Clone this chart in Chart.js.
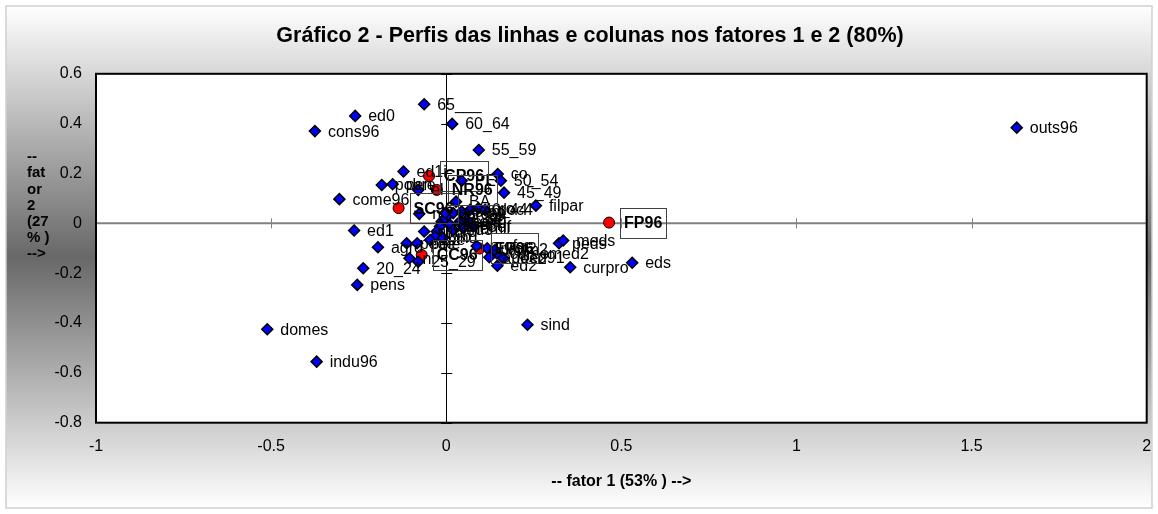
<!DOCTYPE html>
<html><head><meta charset="utf-8">
<script src="https://cdn.jsdelivr.net/npm/chart.js@4/dist/chart.umd.min.js"></script>
<style>html,body{margin:0;padding:0;background:#fff}#wrap{width:1158px;height:514px;position:relative}</style>
</head><body><div id="wrap"><canvas id="c" width="1158" height="514"></canvas></div>
<script>
const titleText = 'Gráfico 2 - Perfis das linhas e colunas nos fatores 1 e 2 (80%)';
const xTitle = '-- fator 1 (53% ) -->';
const yTitleLines = ['--', 'fat', 'or', '2', '(27', '% )', '-->'];
const xTicks = [-1, -0.5, 0, 0.5, 1, 1.5, 2];
const yTicks = [-0.8, -0.6, -0.4, -0.2, 0, 0.2, 0.4, 0.6];

// blue diamonds (category profiles)
const rowLabels = ['outs96','cons96','ed0','65___','60_64','55_59','co','50_54','45_49','filpar',
  'PE','BA','ed1i','pobre','pen','el','come96','n','ed1','nl',
  'agro','pede','pele','ni','25_29','20_24','pens','domes','indu96','sind',
  'eds','curpro','peds','meds','ed2','cursomed2','prof2','apoed91','tec2','prof',
  'adm2','ssoc','30_34','35_39','proal','sem','40_44','pro','doc4','cam',
  'mrd','urb','assal','ed3','famil','Cdf','ed4','39g','nc','me','ind'];
const rowX = [1.629,-0.375,-0.260,-0.063,0.017,0.093,0.147,0.156,0.165,0.256,
  0.044,0.028,-0.122,-0.184,-0.153,-0.080,-0.305,-0.077,-0.263,-0.063,
  -0.195,-0.113,-0.083,-0.105,-0.080,-0.237,-0.254,-0.511,-0.370,0.232,
  0.531,0.354,0.322,0.334,0.146,0.144,0.117,0.123,0.163,0.087,
  0.139,-0.013,-0.003,0.006,0.020,0.044,0.068,0.092,0.111,-0.018,
  -0.027,-0.032,0.011,0.020,0.049,0.077,0.039,0.059,-0.003,-0.046,-0.009];
const rowY = [0.384,0.370,0.431,0.478,0.399,0.294,0.198,0.171,0.123,0.071,
  0.171,0.087,0.208,0.154,0.157,0.134,0.097,0.038,-0.029,-0.033,
  -0.096,-0.080,-0.080,-0.140,-0.154,-0.180,-0.247,-0.425,-0.555,-0.407,
  -0.158,-0.176,-0.080,-0.069,-0.170,-0.120,-0.100,-0.136,-0.140,-0.091,
  -0.107,0.007,0.020,0.034,0.041,0.047,0.054,0.061,0.054,-0.013,
  -0.033,-0.053,-0.006,-0.027,-0.020,-0.013,0.007,0.014,0.041,-0.067,-0.059];

// red circles (sector profiles)
const colLabels = ['CP96','NR96','SC96','CC96','EP96','FP96'];
const colX = [-0.049,-0.027,-0.136,-0.070,0.095,0.465];
const colY = [0.190,0.134,0.061,-0.127,-0.101,0.003];

const FONT = '"Liberation Sans", Arial, sans-serif';
Chart.defaults.font.family = FONT;
Chart.defaults.color = '#000';

const decor = {
  id: 'decor',
  beforeDraw(chart) {
    const {ctx, width, height} = chart;
    ctx.save();
    ctx.fillStyle = '#fff';
    ctx.fillRect(0, 0, width, height);
    const g = ctx.createLinearGradient(0, 6, 0, 508);
    g.addColorStop(0, '#ffffff');
    g.addColorStop(0.5, '#686868');
    g.addColorStop(1, '#ffffff');
    ctx.fillStyle = g;
    ctx.fillRect(6, 6, 1146, 502);
    ctx.strokeStyle = '#d0d0d0';
    ctx.lineWidth = 1.5;
    ctx.strokeRect(6, 6, 1146, 502);
    ctx.restore();
  },
  beforeDatasetsDraw(chart) {
    const {ctx, chartArea: a, scales: {x, y}} = chart;
    ctx.save();
    ctx.fillStyle = '#fff';
    ctx.fillRect(a.left, a.top, a.right - a.left, a.bottom - a.top);
    const x0 = x.getPixelForValue(0), y0 = y.getPixelForValue(0);
    ctx.strokeStyle = '#808080';
    ctx.lineWidth = 2;
    ctx.beginPath(); ctx.moveTo(a.left, y0); ctx.lineTo(a.right, y0); ctx.stroke();
    ctx.lineWidth = 1;
    xTicks.forEach(v => {
      const px = Math.round(x.getPixelForValue(v)) + 0.5;
      ctx.beginPath(); ctx.moveTo(px, y0 - 5); ctx.lineTo(px, y0 + 5); ctx.stroke();
    });
    ctx.strokeStyle = '#000';
    const xr = Math.round(x0) + 0.5;
    ctx.beginPath(); ctx.moveTo(xr, a.top); ctx.lineTo(xr, a.bottom); ctx.stroke();
    yTicks.forEach(v => {
      const py = Math.round(y.getPixelForValue(v)) + 0.5;
      ctx.beginPath(); ctx.moveTo(x0 - 5, py); ctx.lineTo(x0 + 6, py); ctx.stroke();
    });
    ctx.lineWidth = 2;
    ctx.strokeRect(a.left, a.top, a.right - a.left, a.bottom - a.top);
    // y axis title
    ctx.fillStyle = '#000';
    ctx.font = 'bold 15px ' + FONT;
    ctx.textBaseline = 'middle';
    ctx.textAlign = 'left';
    yTitleLines.forEach((t, i) => ctx.fillText(t, 27, 157 + i * 16.2));
    ctx.restore();
  },
  afterDatasetsDraw(chart) {
    const {ctx, scales: {x, y}} = chart;
    ctx.save();
    ctx.fillStyle = '#000';
    ctx.textBaseline = 'middle';
    ctx.textAlign = 'left';
    ctx.font = '16px ' + FONT;
    rowLabels.forEach((t, i) => {
      const px = x.getPixelForValue(rowX[i]), py = y.getPixelForValue(rowY[i]);
      ctx.fillText(t, px + 13, py + 1);
    });
    ctx.font = 'bold 16px ' + FONT;
    ctx.strokeStyle = '#404040';
    ctx.lineWidth = 1;
    colLabels.forEach((t, i) => {
      const px = x.getPixelForValue(colX[i]), py = y.getPixelForValue(colY[i]);
      const w = ctx.measureText(t).width;
      ctx.strokeRect(Math.round(px + 11) + 0.5, Math.round(py - 15) + 0.5, Math.round(w + 8), 30);
      ctx.fillText(t, px + 15, py + 1);
    });
    ctx.restore();
  }
};

new Chart(document.getElementById('c'), {
  type: 'scatter',
  data: {
    datasets: [
      {
        label: 'linhas',
        data: rowX.map((v, i) => ({x: v, y: rowY[i]})),
        pointStyle: 'rectRot',
        pointRadius: 5.5,
        backgroundColor: '#0000ff',
        borderColor: '#000',
        borderWidth: 1.5
      },
      {
        label: 'colunas',
        data: colX.map((v, i) => ({x: v, y: colY[i]})),
        pointStyle: 'circle',
        pointRadius: 5.5,
        backgroundColor: '#ff0000',
        borderColor: '#000',
        borderWidth: 1
      }
    ]
  },
  options: {
    responsive: false,
    animation: false,
    events: [],
    layout: {padding: {left: 33.3, right: 11.3, top: 6, bottom: 6}},
    plugins: {
      legend: {display: false},
      tooltip: {enabled: false},
      title: {
        display: true,
        text: titleText,
        color: '#000',
        font: {size: 21.5, weight: 'bold', family: FONT},
        padding: {top: 17, bottom: 25}
      }
    },
    scales: {
      x: {
        type: 'linear',
        min: -1, max: 2,
        afterBuildTicks: s => { s.ticks = xTicks.map(v => ({value: v})); },
        afterFit: s => { s.height = 85.3; s.paddingLeft = 0; s.paddingRight = 0; },
        ticks: {autoSkip: false, maxRotation: 0, padding: 14, color: '#000', font: {size: 16}, callback: v => String(v)},
        grid: {display: false, drawTicks: false},
        border: {display: false},
        title: {display: true, text: xTitle, color: '#000', font: {size: 16, weight: 'bold'}, padding: {top: 0, bottom: 17}}
      },
      y: {
        type: 'linear',
        min: -0.8, max: 0.6,
        afterBuildTicks: s => { s.ticks = yTicks.map(v => ({value: v})); },
        afterFit: s => { s.width = 62.7; s.paddingTop = 0; s.paddingBottom = 0; },
        ticks: {autoSkip: false, padding: 14, color: '#000', font: {size: 16}, callback: v => String(v)},
        grid: {display: false, drawTicks: false},
        border: {display: false}
      }
    }
  },
  plugins: [decor]
});
</script>
</body></html>
